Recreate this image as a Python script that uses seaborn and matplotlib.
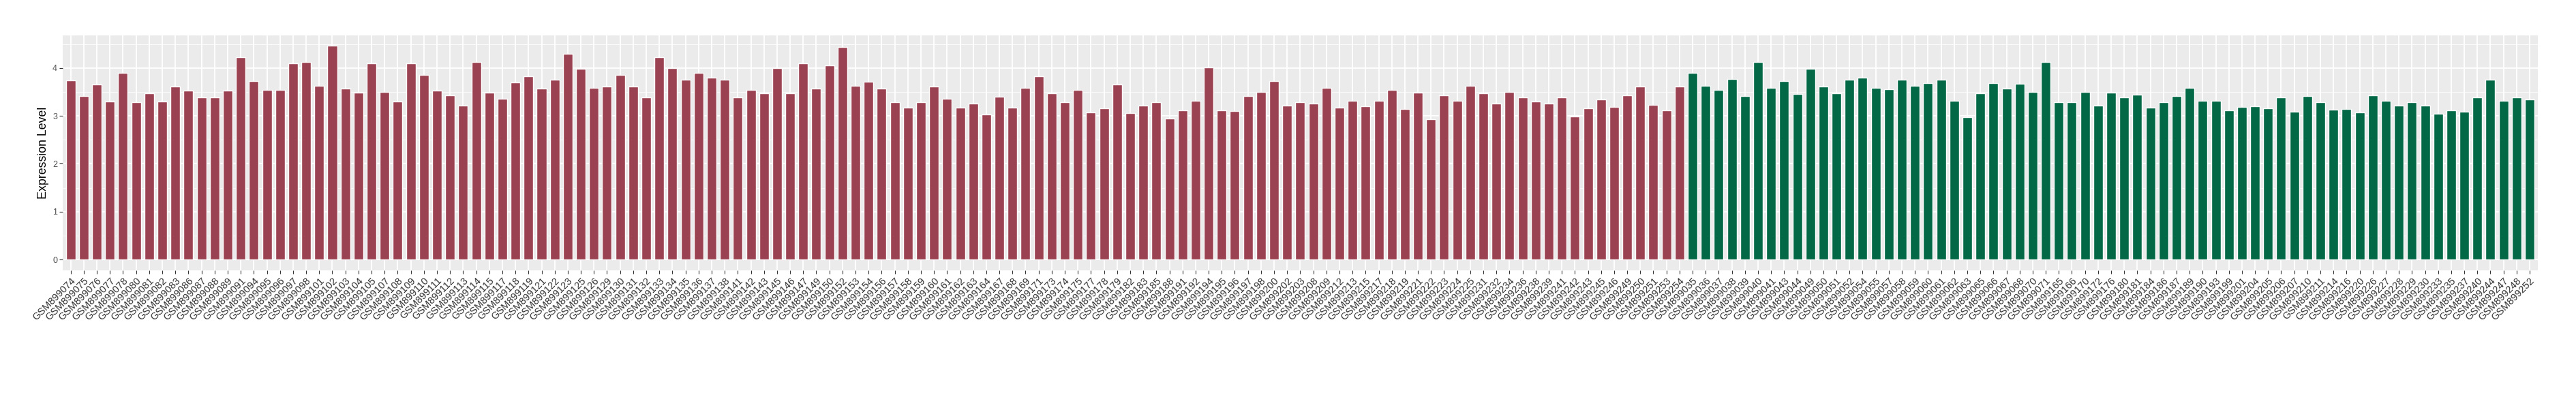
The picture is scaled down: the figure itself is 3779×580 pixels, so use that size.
import matplotlib
matplotlib.use("Agg")
import matplotlib.pyplot as plt
import seaborn as sns
import pandas as pd
from matplotlib.ticker import MultipleLocator

group1_samples = ["GSM899074","GSM899075","GSM899076","GSM899077","GSM899078","GSM899080","GSM899081","GSM899082","GSM899083","GSM899086",
"GSM899087","GSM899088","GSM899089","GSM899091","GSM899094","GSM899095","GSM899096","GSM899097","GSM899098","GSM899101",
"GSM899102","GSM899103","GSM899104","GSM899105","GSM899107","GSM899108","GSM899109","GSM899110","GSM899111","GSM899112",
"GSM899113","GSM899114","GSM899115","GSM899117","GSM899118","GSM899119","GSM899121","GSM899122","GSM899123","GSM899125",
"GSM899126","GSM899129","GSM899130","GSM899131","GSM899132","GSM899133","GSM899134","GSM899135","GSM899136","GSM899137",
"GSM899138","GSM899141","GSM899142","GSM899143","GSM899145","GSM899146","GSM899147","GSM899149","GSM899150","GSM899152",
"GSM899153","GSM899154","GSM899156","GSM899157","GSM899158","GSM899159","GSM899160","GSM899161","GSM899162","GSM899163",
"GSM899164","GSM899167","GSM899168","GSM899169","GSM899171","GSM899173","GSM899174","GSM899175","GSM899177","GSM899178",
"GSM899179","GSM899182","GSM899183","GSM899185","GSM899188","GSM899191","GSM899192","GSM899194","GSM899195","GSM899196",
"GSM899197","GSM899198","GSM899200","GSM899202","GSM899203","GSM899208","GSM899209","GSM899212","GSM899213","GSM899215",
"GSM899217","GSM899218","GSM899219","GSM899221","GSM899222","GSM899223","GSM899224","GSM899225","GSM899231","GSM899232",
"GSM899234","GSM899236","GSM899238","GSM899239","GSM899241","GSM899242","GSM899243","GSM899245","GSM899246","GSM899249",
"GSM899250","GSM899251","GSM899253","GSM899254"]
group1_values = [3.74,3.41,3.66,3.30,3.90,3.28,3.47,3.30,3.61,3.52,
3.39,3.39,3.53,4.22,3.72,3.54,3.54,4.10,4.12,3.63,
4.46,3.57,3.49,4.10,3.50,3.30,4.10,3.86,3.53,3.43,
3.22,4.12,3.48,3.36,3.70,3.83,3.57,3.75,4.30,3.98,
3.59,3.61,3.85,3.61,3.39,4.22,3.99,3.76,3.89,3.79,
3.76,3.39,3.54,3.47,3.99,3.47,4.10,3.57,4.05,4.43,
3.63,3.71,3.57,3.28,3.17,3.29,3.61,3.35,3.17,3.25,
3.03,3.40,3.17,3.59,3.83,3.47,3.29,3.54,3.07,3.16,
3.66,3.06,3.22,3.28,2.95,3.11,3.31,4.01,3.12,3.10,
3.41,3.50,3.72,3.22,3.29,3.25,3.58,3.17,3.32,3.20,
3.31,3.54,3.14,3.48,2.93,3.43,3.31,3.62,3.47,3.25,
3.50,3.39,3.30,3.25,3.38,2.98,3.16,3.34,3.19,3.43,
3.61,3.23,3.12,3.61]

group2_samples = ["GSM899035","GSM899036","GSM899037","GSM899038","GSM899039","GSM899040","GSM899041","GSM899043","GSM899044","GSM899049",
"GSM899050","GSM899051","GSM899052","GSM899054","GSM899055","GSM899057","GSM899058","GSM899059","GSM899060","GSM899061",
"GSM899062","GSM899063","GSM899065","GSM899066","GSM899067","GSM899068","GSM899070","GSM899071","GSM899165","GSM899166",
"GSM899170","GSM899172","GSM899176","GSM899180","GSM899181","GSM899184","GSM899186","GSM899187","GSM899189","GSM899190",
"GSM899193","GSM899199","GSM899201","GSM899204","GSM899205","GSM899206","GSM899207","GSM899210","GSM899211","GSM899214",
"GSM899216","GSM899220","GSM899226","GSM899227","GSM899228","GSM899229","GSM899230","GSM899233","GSM899235","GSM899237",
"GSM899240","GSM899244","GSM899247","GSM899248","GSM899252"]
group2_values = [3.89,3.62,3.54,3.77,3.41,4.13,3.58,3.72,3.45,3.98,
3.61,3.47,3.76,3.79,3.58,3.56,3.76,3.63,3.68,3.76,
3.32,2.97,3.47,3.68,3.57,3.67,3.50,4.13,3.29,3.28,
3.50,3.22,3.48,3.38,3.44,3.17,3.28,3.41,3.59,3.32,
3.31,3.11,3.19,3.20,3.16,3.38,3.08,3.41,3.29,3.13,
3.14,3.07,3.43,3.32,3.21,3.29,3.22,3.04,3.11,3.08,
3.38,3.76,3.32,3.39,3.34]

group_names = ["Group 1", "Group 2"]
group_colors = ["#9B4252", "#036846"]

df = pd.DataFrame({
    "sample": group1_samples + group2_samples,
    "value": group1_values + group2_values,
    "group": [group_names[0]] * len(group1_samples) + [group_names[1]] * len(group2_samples),
})

sns.set_theme(style="darkgrid")
plt.rcParams["font.family"] = ["Liberation Sans", "DejaVu Sans"]

fig = plt.figure(figsize=(37.8, 5.8), dpi=100)
ax = fig.add_axes([0.0244, 0.316, 0.9604, 0.5949])
ax.set_facecolor("#EBEBEB")

sns.barplot(data=df, x="sample", y="value", hue="group", order=df["sample"].tolist(),
            hue_order=group_names, palette=group_colors, dodge=False, width=0.73,
            saturation=1, legend=False, ax=ax, zorder=3)

n = len(df)
vmax = df["value"].max()
ax.set_xlim(-0.6, n - 0.4)
ax.set_ylim(-0.05 * vmax, 1.05 * vmax)
ax.yaxis.set_major_locator(MultipleLocator(1))
ax.yaxis.set_minor_locator(MultipleLocator(0.5))
ax.grid(which="major", color="white", linewidth=1.3, zorder=0)
ax.grid(which="minor", axis="y", color="white", linewidth=0.6, zorder=0)
ax.set_axisbelow(True)
for s in ax.spines.values():
    s.set_visible(False)

ax.tick_params(axis="both", which="major", length=3.8, width=0.8, color="#333333",
               labelcolor="#4D4D4D", labelsize=9, pad=2, bottom=True, left=True)
ax.tick_params(axis="y", which="minor", length=0)
plt.setp(ax.get_xticklabels(), rotation=45, ha="right", rotation_mode="anchor",
         fontsize=10.5, color="#333333")

ax.set_xlabel("")
ax.set_ylabel("Expression Level", fontsize=12.8, color="black", labelpad=4)

fig.savefig("out.png", dpi=100, facecolor="white")
